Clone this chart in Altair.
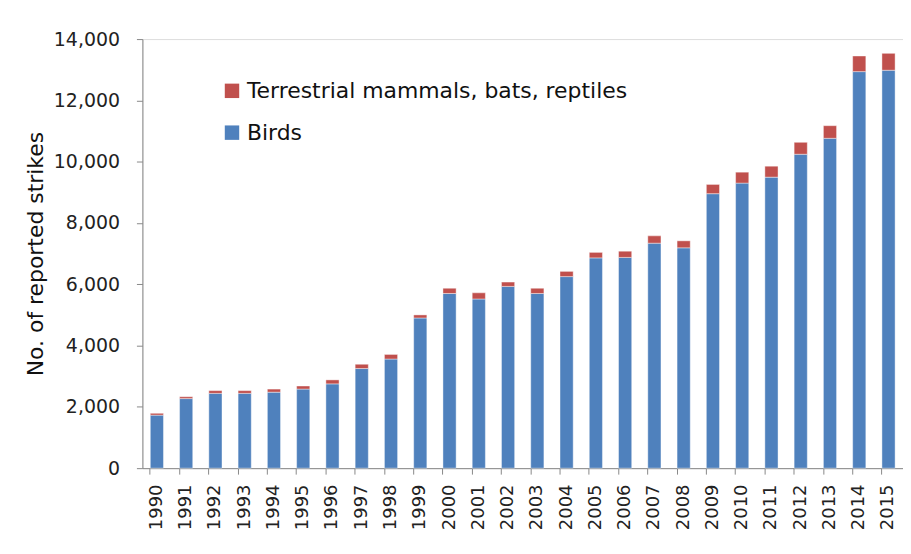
import altair as alt
import pandas as pd

years = [str(y) for y in range(1990, 2016)]
birds = [1730, 2270, 2440, 2440, 2480, 2580, 2750, 3250, 3560, 4900,
         5700, 5520, 5930, 5700, 6250, 6860, 6876, 7341, 7189, 8955,
         9300, 9495, 10242, 10762, 12938, 12983]
totals = [1790, 2330, 2530, 2530, 2580, 2680, 2880, 3390, 3710, 5000,
          5870, 5720, 6070, 5870, 6420, 7040, 7081, 7579, 7417, 9257,
          9657, 9852, 10632, 11174, 13448, 13535]
mammals = [t - b for t, b in zip(totals, birds)]

S_M = "Terrestrial mammals, bats, reptiles"
S_B = "Birds"

rows = []
for y, b, m in zip(years, birds, mammals):
    rows.append({"year": y, "series": S_B, "value": b, "ord": 0})
    rows.append({"year": y, "series": S_M, "value": m, "ord": 1})
df = pd.DataFrame(rows)

FONT = "DejaVu Sans"

chart = alt.Chart(df).mark_bar(stroke="#ffffff", strokeWidth=0.6, strokeOpacity=0.7).encode(
    x=alt.X("year:N", sort=years, title=None,
            scale=alt.Scale(paddingInner=0.55, paddingOuter=0.27),
            axis=alt.Axis(labelAngle=-90, labelAlign="right", labelBaseline="middle",
                          labelFont=FONT, labelFontSize=18, labelColor="#222222",
                          labelPadding=10, tickSize=6, tickColor="#888888",
                          domainColor="#888888", bandPosition=0, ticks=True)),
    y=alt.Y("value:Q", stack="zero", title="No. of reported strikes",
            scale=alt.Scale(domain=[0, 14000], nice=False),
            axis=alt.Axis(values=list(range(0, 14001, 2000)), format=",.0f",
                          grid=False, labelFont=FONT, labelFontSize=19, labelColor="#222222",
                          labelPadding=17, tickSize=6, tickColor="#888888",
                          domainColor="#888888", titleFont=FONT, titleFontSize=22,
                          titleFontWeight="normal", titleColor="#111111", titlePadding=6)),
    color=alt.Color("series:N",
                    scale=alt.Scale(domain=[S_M, S_B], range=["#C0504D", "#4F81BD"]),
                    legend=alt.Legend(title=None, orient="none", legendX=79, legendY=41,
                                      symbolType="square", symbolSize=210, symbolStrokeWidth=0,
                                      labelFont=FONT, labelFontSize=22, labelColor="#111111",
                                      rowPadding=20, labelOffset=4, labelLimit=600)),
    order=alt.Order("ord:Q"),
).properties(
    width=764, height=431,
    autosize=alt.AutoSizeParams(type="none"),
    padding={"left": 135, "top": 30, "right": 0, "bottom": 80},
).configure_view(stroke=None).configure(background="#ffffff")

chart.save("out.html", embed_options={"renderer": "svg", "actions": False})
